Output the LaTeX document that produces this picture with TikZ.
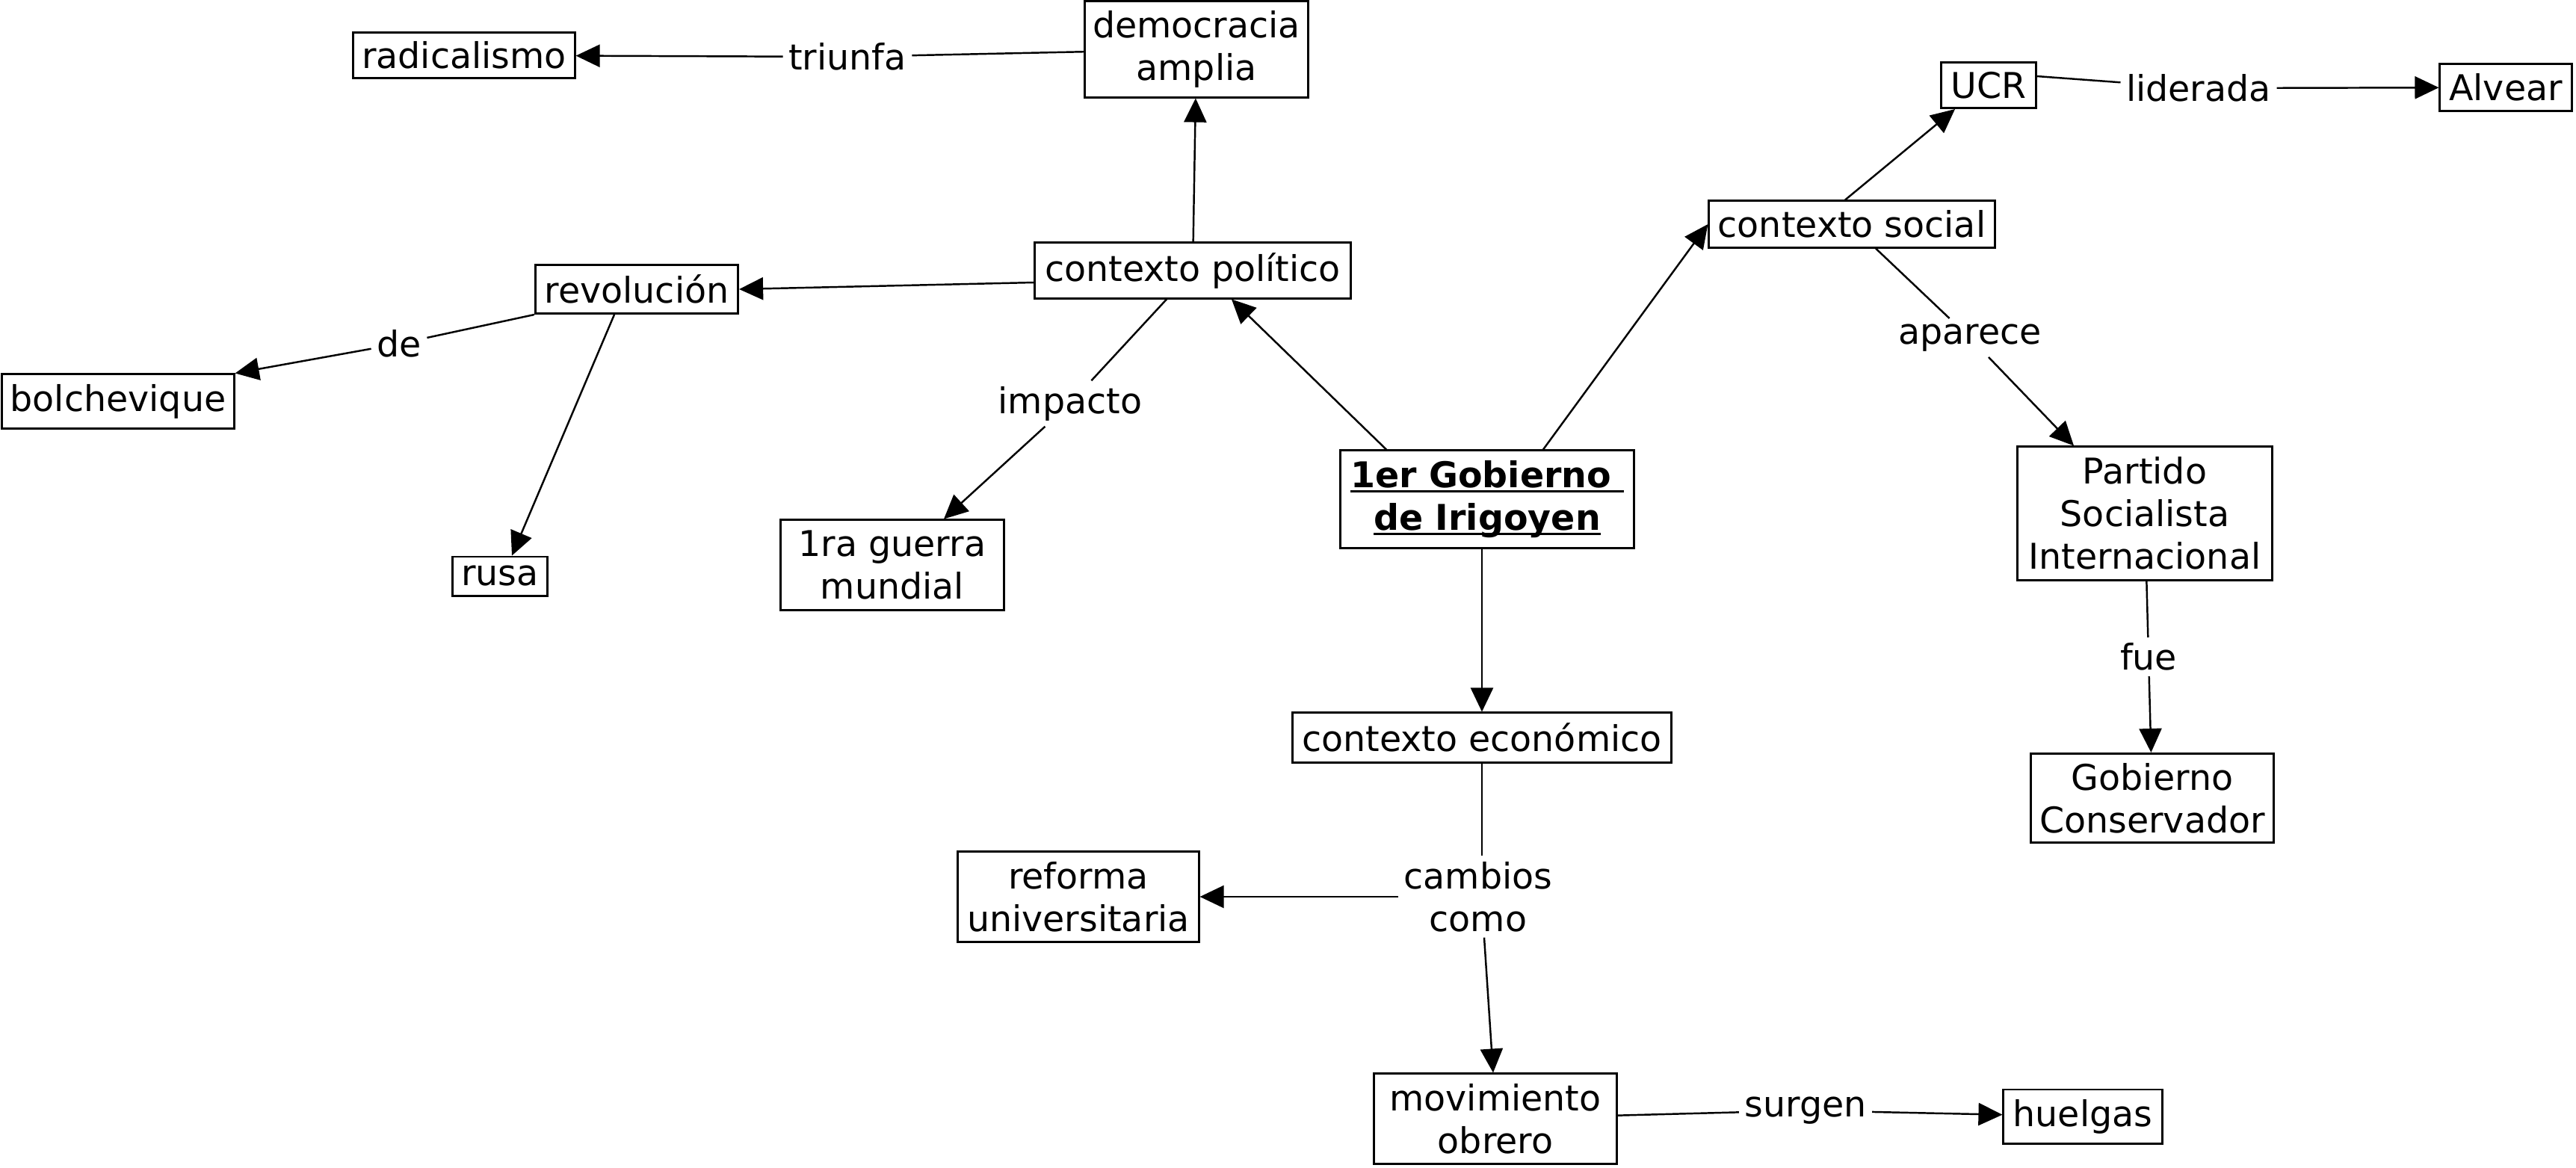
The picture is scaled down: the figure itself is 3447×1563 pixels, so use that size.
\documentclass[tikz,border=0pt]{standalone}
\usepackage{fontspec}
\setmainfont{DejaVu Sans}
\usetikzlibrary{arrows.meta,calc}
\newcommand\ulx[1]{\setbox0\hbox{#1}\rlap{\rule[-0.14em]{\wd0}{0.07em}}\box0}
\newcommand\mainsz{\fontsize{13.5}{16.2}\selectfont}
\begin{document}
\begin{tikzpicture}[x=0.01cm,y=-0.01cm,
  bx/.style n args={2}{draw, line width=0.85pt, inner sep=0pt, align=center,
    font=\mainsz, minimum width=#1 cm, minimum height=#2 cm},
  lbl/.style={inner sep=2pt, align=center, font=\mainsz},
  con/.style={line width=0.7pt},
  arr/.style={con, -{Triangle[length=3.2mm,width=3mm]}}]
\useasboundingbox (0,0) rectangle (3447,1563);
% concept boxes
\node[bx={2.96}{0.60}] (rad) at (621,74) {radicalismo};
\node[bx={2.99}{1.28}] (dem) at (1601,66) {democracia\\amplia};
\node[bx={4.22}{0.74}] (pol) at (1596,362) {contexto político};
\node[bx={2.71}{0.65}] (rev) at (852,387) {revolución};
\node[bx={3.10}{0.72}] (bol) at (158,537) {bolchevique};
\node[bx={1.27}{0.52}] (rus) at (669,771) {rusa};
\node[bx={2.98}{1.20}] (gue) at (1194,756) {1ra guerra\\mundial};
\node[bx={3.93}{1.30}] (gob) at (1990,668) {\textbf{\ulx{1er Gobierno\ }}\\\textbf{\ulx{de Irigoyen}}};
\node[bx={3.82}{0.62}] (soc) at (2478,300) {contexto social};
\node[bx={1.26}{0.61}] (ucr) at (2661,114) {UCR};
\node[bx={1.76}{0.62}] (alv) at (3353,117) {Alvear};
\node[bx={3.40}{1.78}] (par) at (2870,687) {Partido\\Socialista\\Internacional};
\node[bx={3.25}{1.19}] (con) at (2880,1068) {Gobierno\\Conservador};
\node[bx={5.06}{0.66}] (eco) at (1983,987) {contexto económico};
\node[bx={3.22}{1.20}] (ref) at (1443,1200) {reforma\\universitaria};
\node[bx={3.24}{1.20}] (mov) at (2001,1497) {movimiento\\obrero};
\node[bx={2.12}{0.72}] (hue) at (2787,1494) {huelgas};
% link labels
\node[lbl] (tri) at (1134,76) {triunfa};
\node[lbl] (de) at (534,460) {de};
\node[lbl] (imp) at (1432,540) {impacto};
\node[lbl] (lid) at (2942,118) {liderada};
\node[lbl] (apa) at (2636,452) {aparece};
\node[lbl] (fue) at (2875,879) {fue};
\node[lbl] (cam) at (1978,1200) {cambios\\como};
\node[lbl] (sur) at (2416,1486) {surgen};
% connectors
\draw[con] (dem) -- (tri);
\draw[arr] (tri) -- (rad);
\draw[arr] (pol) -- (dem);
\draw[arr] ($(pol.west)+(0,16)$) -- (rev.east);
\draw[con] (rev.south west) -- (de);
\draw[arr] (de) -- (bol.north east);
\draw[arr] ($(rev.south)+(-30,0)$) -- ($(rus.north)+(16,0)$);
\draw[con] ($(pol.south)+(-35,0)$) -- (imp);
\draw[arr] (imp) -- ($(gue.north)+(69,0)$);
\draw[arr] ($(gob.north)+(-135,0)$) -- ($(pol.south)+(52,0)$);
\draw[arr] ($(gob.north)+(75,0)$) -- (soc.west);
\draw[arr] ($(soc.north)+(-9,0)$) -- ($(ucr.south)+(-45,0)$);
\draw[con] ($(ucr.east)+(0,-12)$) -- (lid);
\draw[arr] (lid) -- (alv);
\draw[con] ($(soc.south)+(32,0)$) -- (apa);
\draw[arr] (apa) -- ($(par.north)+(-95,0)$);
\draw[con] (par) -- (fue);
\draw[arr] (fue) -- (con);
\draw[arr] (eco.north |- gob.south) -- (eco.north);
\draw[con] (eco.south) -- (eco.south |- cam.north);
\draw[arr] (cam) -- (ref);
\draw[arr] ($(cam.south)+(8,0)$) -- ($(mov.north)+(-3,0)$);
\draw[con] (mov) -- (sur);
\draw[arr] (sur) -- (hue);
\end{tikzpicture}
\end{document}
